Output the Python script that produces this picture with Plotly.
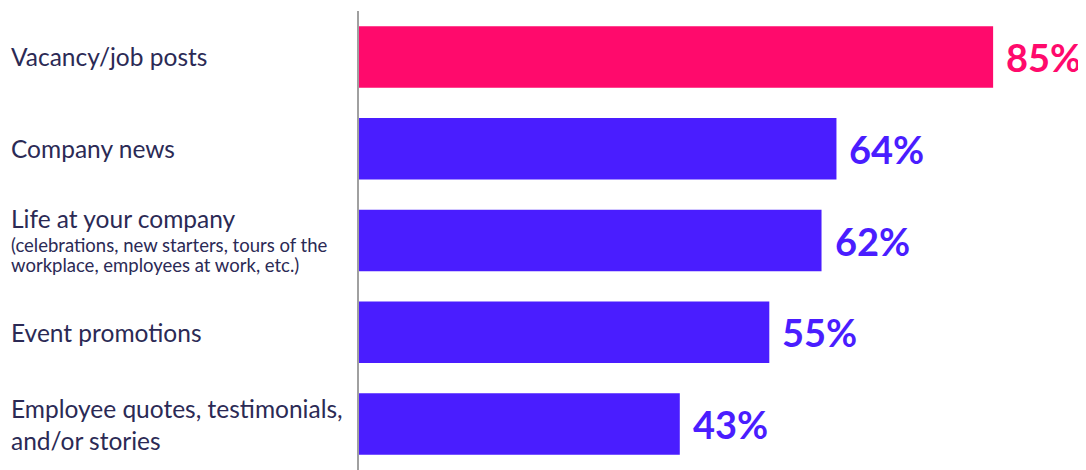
import plotly.graph_objects as go

categories = [
    "Vacancy/job posts",
    "Company news",
    "Life at your company",
    "Event promotions",
    "Employee quotes, testimonials,<br>and/or stories",
]
subtitles = [[], [], ["(celebrations, new starters, tours of the", "workplace, employees at work, etc.)"], [], []]
values = [85, 64, 62, 55, 43]
colors = ["#FF0A6C", "#4A1DFF", "#4A1DFF", "#4A1DFF", "#4A1DFF"]

TEXT = "#2B2A55"
FONT = "Lato"

# page body has an 8px default margin; compensate so the chart lands where the reference has it
W, H = 1078, 462
L, T = 351, 3
PW = W - L

fig = go.Figure(go.Bar(
    y=list(range(len(categories))),
    x=values,
    orientation="h",
    marker=dict(color=colors, line=dict(width=0)),
    hoverinfo="skip",
))

for i, (c, s, v, col) in enumerate(zip(categories, subtitles, values, colors)):
    main_shift = 22 if s else 0
    fig.add_annotation(x=-L / PW, xref="paper", y=i, yref="y", text=c,
                       xanchor="left", yanchor="middle", align="left", showarrow=False,
                       xshift=1, yshift=main_shift,
                       font=dict(family=FONT, size=24.5, color=TEXT))
    for j, line in enumerate(s):
        fig.add_annotation(x=-L / PW, xref="paper", y=i, yref="y", text=line,
                           xanchor="left", yanchor="middle", align="left", showarrow=False,
                           xshift=1, yshift=-4 - 20 * j,
                           font=dict(family=FONT, size=18.5, color=TEXT))
    fig.add_annotation(x=v, xref="x", y=i, yref="y", text=f"{v}%",
                       xanchor="left", yanchor="middle", showarrow=False, xshift=11,
                       font=dict(family=FONT, size=38, color=col, weight="bold"))

fig.update_layout(
    width=W, height=H,
    margin=dict(l=L, r=0, t=T, b=0),
    paper_bgcolor="white", plot_bgcolor="white",
    bargap=0.33,
    showlegend=False,
    xaxis=dict(range=[0, 97.45], visible=False, fixedrange=True),
    yaxis=dict(range=[4.5, -0.5], showticklabels=False, showgrid=False, zeroline=False,
               showline=True, linecolor="#A0A0A0", linewidth=2, ticks=""),
)

fig.write_html("out.html")
